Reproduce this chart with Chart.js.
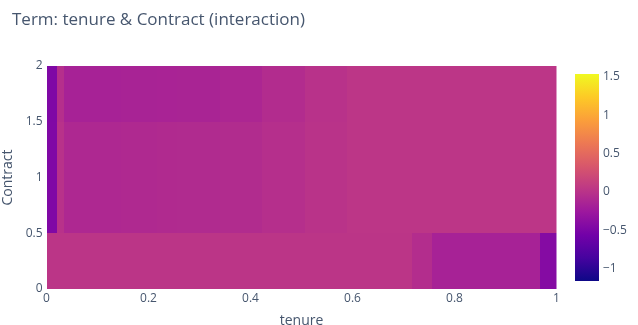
<!DOCTYPE html>
<html><head><meta charset="utf-8">
<script src="https://cdn.jsdelivr.net/npm/chart.js@4.4.1/dist/chart.umd.min.js"></script>
<style>
html,body{margin:0;padding:0;background:#fff;}
#wrap{position:relative;width:638px;height:325px;overflow:hidden;background:#fff;}
#main{position:absolute;left:0;top:0;}
#cbar{position:absolute;left:560px;top:60px;}
</style></head><body>
<div id="wrap"><canvas id="main" width="638" height="325"></canvas><canvas id="cbar" width="78" height="240"></canvas></div>
<script>
// ---- data ----
const chartTitle = 'Term: tenure & Contract (interaction)';
const xAxisTitle = 'tenure';
const yAxisTitle = 'Contract';

// tenure cell edges (heatmap columns)
const tenureEdges = [0, 0.020, 0.034, 0.146, 0.217, 0.255, 0.341, 0.4235, 0.507, 0.589, 0.717, 0.756, 0.967, 1];
// Contract row edges (rows for Contract = 0, 1, 2, clipped to axis range)
const contractEdges = [0, 0.5, 1.5, 2];

// interaction values per Contract level, one per tenure cell
const zContract0 = [0.025, 0.025, 0.025, 0.025, 0.025, 0.025, 0.025, 0.025, 0.025, 0.025, -0.051, -0.16, -0.424];
const zContract1 = [-0.46, -0.005, -0.1, -0.09, -0.078, -0.075, -0.066, -0.033, 0.004, 0.03, 0.03, 0.03, 0.03];
const zContract2 = [-0.47, -0.033, -0.16, -0.15, -0.145, -0.14, -0.115, -0.06, -0.005, 0.03, 0.03, 0.03, 0.03];

const xTicks = [0, 0.2, 0.4, 0.6, 0.8, 1];
const xTickLabels = ['0', '0.2', '0.4', '0.6', '0.8', '1'];
const yTicks = [0, 0.5, 1, 1.5, 2];
const yTickLabels = ['0', '0.5', '1', '1.5', '2'];
const colorbarTicks = [-1, -0.5, 0, 0.5, 1, 1.5];
const colorbarTickLabels = ['\u22121', '\u22120.5', '0', '0.5', '1', '1.5'];
const zMin = -1.16, zMax = 1.54;

const plasma = ['#0d0887', '#46039f', '#7201a8', '#9c179e', '#bd3786', '#d8576b', '#ed7953', '#fb9f3a', '#fdca26', '#f0f921'];

// ---- helpers ----
const TXT = '#46566e';
const FONT = '"Open Sans", "Liberation Sans", sans-serif';
Chart.defaults.font.family = FONT;
Chart.defaults.color = TXT;

function hexToRgb(h) { return [parseInt(h.slice(1,3),16), parseInt(h.slice(3,5),16), parseInt(h.slice(5,7),16)]; }
const plasmaRgb = plasma.map(hexToRgb);
function zColor(v) {
  let t = (v - zMin) / (zMax - zMin);
  t = Math.max(0, Math.min(1, t));
  const n = plasmaRgb.length - 1;
  const i = Math.min(n - 1, Math.floor(t * n));
  const f = t * n - i;
  const a = plasmaRgb[i], b = plasmaRgb[i + 1];
  return 'rgb(' + [0,1,2].map(k => Math.round(a[k] + (b[k] - a[k]) * f)).join(',') + ')';
}

const zRows = [zContract0, zContract1, zContract2];
const cells = [];
zRows.forEach((row, r) => {
  row.forEach((v, c) => {
    cells.push({
      x: (tenureEdges[c] + tenureEdges[c + 1]) / 2,
      y: (contractEdges[r] + contractEdges[r + 1]) / 2,
      x0: tenureEdges[c], x1: tenureEdges[c + 1],
      y0: contractEdges[r], y1: contractEdges[r + 1],
      v: v
    });
  });
});

const heatmapPlugin = {
  id: 'heatmapCells',
  beforeDatasetsDraw(chart) {
    const { ctx, chartArea: a, scales: { x, y } } = chart;
    ctx.save();
    ctx.beginPath();
    ctx.rect(a.left, a.top, a.right - a.left, a.bottom - a.top);
    ctx.clip();
    chart.data.datasets[0].data.forEach(d => {
      const px0 = Math.round(x.getPixelForValue(d.x0));
      const px1 = Math.round(x.getPixelForValue(d.x1));
      const py0 = Math.round(y.getPixelForValue(d.y0));
      const py1 = Math.round(y.getPixelForValue(d.y1));
      ctx.fillStyle = zColor(d.v);
      ctx.fillRect(px0, py1, px1 - px0, py0 - py1);
    });
    ctx.restore();
  }
};

new Chart(document.getElementById('main'), {
  type: 'scatter',
  data: { datasets: [{ data: cells, pointRadius: 0, pointHoverRadius: 0, showLine: false }] },
  plugins: [heatmapPlugin],
  options: {
    responsive: false, animation: false, devicePixelRatio: 1,
    layout: { padding: { left: 12, right: 81.5, top: 0, bottom: 0 } },
    plugins: {
      legend: { display: false }, tooltip: { enabled: false },
      title: { display: true, text: chartTitle, align: 'start', color: TXT,
        font: { family: FONT, size: 17, weight: 'normal' }, padding: { top: 10, bottom: 35.6 } }
    },
    scales: {
      x: {
        type: 'linear', min: 0, max: 1,
        afterBuildTicks: s => { s.ticks = xTicks.map(v => ({ value: v })); },
        grid: { display: false, drawTicks: false }, border: { display: false },
        ticks: { color: TXT, font: { size: 12 }, padding: 2, maxRotation: 0, autoSkip: false,
          callback: (v, i) => xTickLabels[i] },
        title: { display: true, text: xAxisTitle, color: TXT, font: { size: 14 }, padding: { top: 0, bottom: -4 } },
        afterFit: s => { s.height = 36; }
      },
      y: {
        type: 'linear', min: 0, max: 2,
        afterBuildTicks: s => { s.ticks = yTicks.map(v => ({ value: v })); },
        grid: { display: false, drawTicks: false }, border: { display: false },
        ticks: { color: TXT, font: { size: 12 }, padding: 4, autoSkip: false,
          callback: (v, i) => yTickLabels[i] },
        title: { display: true, text: yAxisTitle, color: TXT, font: { size: 14 }, padding: { top: -12.5, bottom: 0 } },
        afterFit: s => { s.width = 34.5; }
      }
    }
  }
});

new Chart(document.getElementById('cbar'), {
  type: 'bar',
  data: { labels: [''], datasets: [{
    data: [[zMin, zMax]],
    barPercentage: 1, categoryPercentage: 1, borderWidth: 0,
    backgroundColor: c => {
      const ch = c.chart;
      if (!ch.chartArea) return plasma[4];
      const ys = ch.scales.y;
      const g = ch.ctx.createLinearGradient(0, ys.getPixelForValue(zMin), 0, ys.getPixelForValue(zMax));
      plasma.forEach((col, i) => g.addColorStop(i / (plasma.length - 1), col));
      return g;
    }
  }] },
  options: {
    responsive: false, animation: false, devicePixelRatio: 1,
    layout: { padding: { left: 15, top: 14, bottom: 19, right: 0 } },
    plugins: { legend: { display: false }, tooltip: { enabled: false } },
    scales: {
      x: { display: false },
      y: {
        position: 'right', min: zMin, max: zMax,
        afterBuildTicks: s => { s.ticks = colorbarTicks.map(v => ({ value: v })); },
        grid: { display: false, drawTicks: false }, border: { display: false },
        ticks: { color: TXT, font: { size: 12 }, padding: 4, autoSkip: false,
          callback: (v, i) => colorbarTickLabels[i] },
        afterFit: s => { s.width = 39; }
      }
    }
  }
});
</script>
</body></html>
